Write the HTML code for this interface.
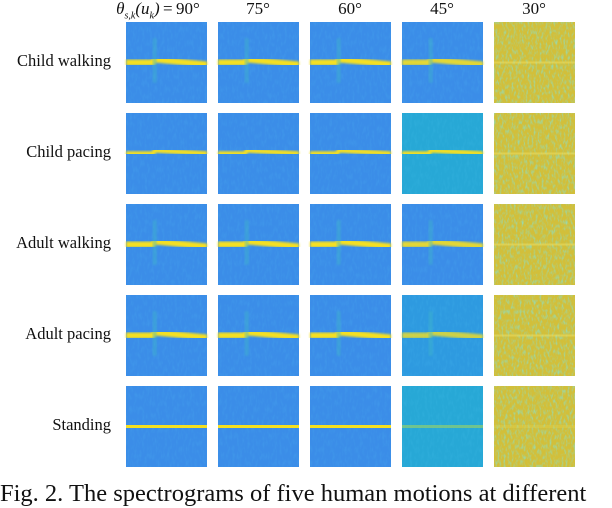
<!DOCTYPE html>
<html><head><meta charset="utf-8">
<style>
html,body{margin:0;padding:0;background:#fff;}
body{width:612px;height:498px;position:relative;overflow:hidden;font-family:"Liberation Serif",serif;}
.lbl{position:absolute;font-size:16.5px;color:#111;text-align:right;width:120px;}
.hdr{position:absolute;font-size:17px;color:#111;text-align:center;width:92px;}
.cap{position:absolute;left:0;top:480px;font-size:24.5px;letter-spacing:0px;color:#111;white-space:nowrap;}
svg{position:absolute;left:0;top:0;}
</style></head>
<body>
<div id="root"></div>
<div class="cap">Fig. 2. The spectrograms of five human motions at different</div>
<script>
const angles = ["90°","75°","60°","45°","30°"];
const motions = ["Child walking","Child pacing","Adult walking","Adult pacing","Standing"];
// background tone per row/col: 0 blue, 0.5 cyan, 1 yellow-noise
const tone = [[0,0,0,0,1],[0,0,0,0.5,1],[0,0,0,0,1],[0,0,0,0.2,1],[0,0,0,0.5,1]];
const traceStrength = [
 [1,1,1,0.9,0.3],[1,1,1,1,0.3],[1,1,1,0.9,0.3],[1,1,1,0.8,0.2],[1,1,1,0.5,0.1]];
const colX=[126,218,310,402,494], rowY=[22,113,204,295,386], W=81, H=81;
const root=document.getElementById('root');
colX.forEach((x,c)=>{
  const d=document.createElement('div');d.className='hdr';
  
  
  d.style.left=(x-6)+'px';d.style.top='-1px';
  d.innerHTML=c===0?'<span style="position:relative;left:-8px;white-space:nowrap"><i>θ<sub style="font-size:10px">s,k</sub>(u<sub style="font-size:10px">k</sub>)</i>&thinsp;=&thinsp;90°</span>':angles[c];
  root.appendChild(d);
});
rowY.forEach((y,r)=>{
  const d=document.createElement('div');d.className='lbl';
  
  
  d.style.left='-9px';d.style.top=(y+29)+'px';d.textContent=motions[r];
  root.appendChild(d);
});
const NS='http://www.w3.org/2000/svg';
const svg=document.createElementNS(NS,'svg');
svg.setAttribute('width',612);svg.setAttribute('height',498);


svg.innerHTML='<defs><filter id="nz" x="0" y="0" width="1" height="1"><feTurbulence type="fractalNoise" baseFrequency="0.5 0.2" numOctaves="2" seed="3"/><feColorMatrix type="matrix" values="0 0 0 0 0.3  0 0 0 0 0.7  0 0 0 0 0.45  0 0 0 2.2 -1.0"/></filter>'+
'<filter id="nzb" x="0" y="0" width="1" height="1"><feTurbulence type="fractalNoise" baseFrequency="0.4 0.15" numOctaves="2" seed="7"/><feColorMatrix type="matrix" values="0 0 0 0 0.1  0 0 0 0 0.6  0 0 0 0 0.9  0 0 0 0.6 -0.25"/></filter>'+
'<filter id="bl"><feGaussianBlur stdDeviation="1"/></filter></defs>';
function el(tag,attrs,parent){const e=document.createElementNS(NS,tag);for(const k in attrs)e.setAttribute(k,attrs[k]);parent.appendChild(e);return e;}
rowY.forEach((y,r)=>{colX.forEach((x,c)=>{
  const g=el('g',{},svg);
  
  
  const t=tone[r][c];
  const bg=t>=1?'#d2bf3a':(t>=0.5?'#27a8d6':(t>0?'#2e9ae0':'#3b8de8'));
  el('rect',{x:x,y:y,width:W,height:H,fill:bg},g);
  el('rect',{x:x,y:y,width:W,height:H,fill:'#fff',filter:t>=1?'url(#nz)':'url(#nzb)',opacity:t>=1?1:0.5},g);
  const s=traceStrength[r][c];
  const cy=y+H*0.5;
  const col=s>0.6?'#f5e020':(s>0.35?'#8fcf70':'#e8d850');
  if(r===4){el('rect',{x:x,y:cy-1.5,width:W,height:3,fill:col,opacity:Math.min(1,s+0.2)},g);}
  else if(c<4){
    const walk=(r===0||r===2||r===3);
    el('path',{d:`M${x} ${cy} L${x+W*0.33} ${cy} L${x+W*0.36} ${cy-3} L${x+W} ${cy+(walk?2:0)}`,stroke:col,'stroke-width':walk?6:4.5,fill:'none',filter:'url(#bl)',opacity:s},g);
    if(walk){el('rect',{x:x+W*0.33,y:y+H*0.2,width:4,height:H*0.55,fill:'#3fb8c8',opacity:0.45,filter:'url(#bl)'},g);}
  } else {
    el('rect',{x:x,y:cy-1,width:W,height:2,fill:'#f0e060',opacity:0.5},g);
  }
});});
root.appendChild(svg);
</script>
</body></html>
